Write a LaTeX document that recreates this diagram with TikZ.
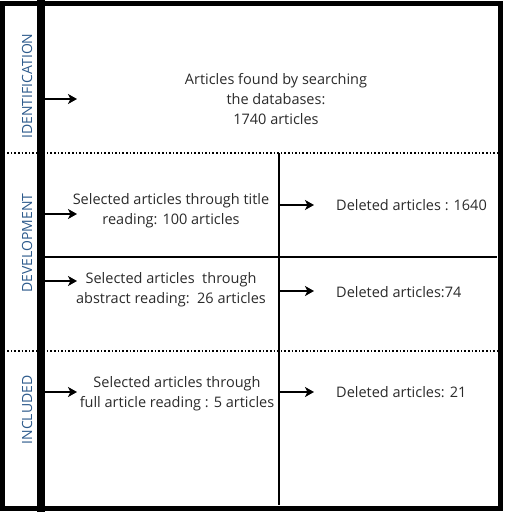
\documentclass[tikz,border=0pt]{standalone}
\usepackage{fontspec}
\setmainfont{Open Sans}
\usetikzlibrary{arrows.meta}
\definecolor{phaseblue}{HTML}{2E5B8C}
\definecolor{txtgray}{HTML}{2A2A2A}
\begin{document}
\begin{tikzpicture}[>={Stealth[length=9pt,width=10pt,inset=2.5pt]}, x=1pt, y=-1pt,
  box/.style={align=center, text=txtgray, inner sep=0pt, font=\fontsize{14.5}{20}\selectfont},
  phase/.style={rotate=90, text=phaseblue, inner sep=0pt, font=\fontsize{14}{16}\selectfont},
  arr/.style={->, line width=1.6pt}]
\useasboundingbox (0,0) rectangle (506,512);
% frame and bars
\draw[line width=5pt](2.5,3)rectangle(500,508.5);
\draw[line width=8pt](41,0)--(41,512);
\draw[dotted, line width=1.6pt](0,153)--(497,153);
\draw[dotted, line width=1.6pt](0,351)--(497,351);
\draw[line width=1.2pt](45,257)--(497,257);
\draw[line width=1.2pt](279,153)--(279,505);
% phase labels
\node[phase] (ident) at (27,86) {IDENTIFICATION};
\node[phase] (devel) at (27,243) {DEVELOPMENT};
\node[phase] (incl) at (27,410) {INCLUDED};
% boxes
\node[box] (found) at (276,99) {Articles found by searching\\the databases:\\ 1740 articles};
\node[box] (title) at (171,211) {Selected articles through title\\reading: 100 articles};
\node[box] (abstr) at (171,290) {Selected articles\ \ through\\abstract reading:\ \ 26 articles};
\node[box] (full) at (177,394) {Selected articles through\\ full article reading : 5 articles};
\node[box, anchor=west] (del1) at (336,205) {Deleted articles : 1640};
\node[box, anchor=west] (del2) at (336,292) {Deleted articles:74};
\node[box, anchor=west] (del3) at (336,392) {Deleted articles: 21};
% arrows
\foreach \n/\y in {a/99, b/214, c/281, d/392}{
  \coordinate (l\n) at (45,\y);
  \coordinate (r\n) at (77,\y);
  \draw[arr](l\n)--(r\n);
}
\foreach \n/\y in {a/205, b/291, c/392}{
  \coordinate (s\n) at (279,\y);
  \coordinate (e\n) at (314,\y);
  \draw[arr](s\n)--(e\n);
}
\end{tikzpicture}
\end{document}
